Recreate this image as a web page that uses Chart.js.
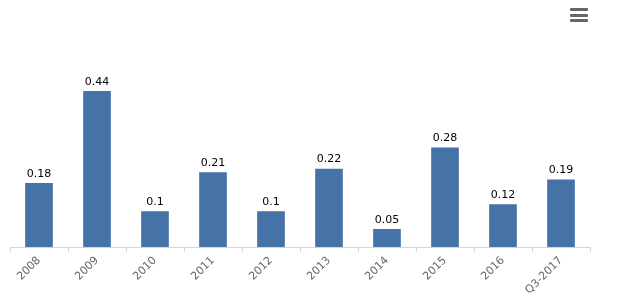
<!DOCTYPE html>
<html>
<head>
<meta charset="utf-8">
<script src="https://cdn.jsdelivr.net/npm/chart.js@4"></script>
<style>
  html, body { margin: 0; padding: 0; background: #fff; }
  #wrap { position: relative; width: 623px; height: 297px; }
  #menu { position: absolute; left: 570px; top: 8px; width: 18px; }
  #menu div { height: 3px; background: #666; margin-bottom: 2.5px; border-radius: 1px; }
</style>
</head>
<body>
<div id="wrap">
  <canvas id="result#0" width="623" height="297"></canvas>
  <div id="menu"><div></div><div></div><div></div></div>
</div>
<script>
const labels = ['2008', '2009', '2010', '2011', '2012', '2013', '2014', '2015', '2016', 'Q3-2017'];
const values = [0.18, 0.44, 0.1, 0.21, 0.1, 0.22, 0.05, 0.28, 0.12, 0.19];

// value labels above each bar
const valueLabels = {
    id: 'valueLabels',
    afterDatasetsDraw(chart) {
        const c = chart.ctx;
        const meta = chart.getDatasetMeta(0);
        c.save();
        c.font = '11px "DejaVu Sans", Verdana, sans-serif';
        c.fillStyle = '#000';
        c.textAlign = 'center';
        c.textBaseline = 'bottom';
        meta.data.forEach((bar, i) => {
            c.fillText(String(values[i]), bar.x, bar.y - 4);
        });
        c.restore();
    }
};

const ctx = document.getElementById('result#0');
chart = new Chart(ctx, {
    type: 'bar',
    data: {
        labels: labels,
        datasets: [{
            data: values,
            backgroundColor: '#4572A7',
            borderWidth: 0,
            barThickness: 27
        }]
    },
    options: {
        responsive: false,
        animation: false,
        layout: { padding: { left: 10, right: 33, top: 70, bottom: 0 } },
        plugins: {
            legend: { display: false },
            tooltip: { enabled: false }
        },
        scales: {
            x: {
                grid: {
                    drawOnChartArea: false,
                    drawTicks: true,
                    tickLength: 5,
                    color: '#ccd6eb'
                },
                border: { color: '#ccd6eb', width: 1 },
                ticks: {
                    autoSkip: false,
                    maxRotation: 45,
                    minRotation: 45,
                    padding: 2,
                    color: '#666666',
                    font: { family: '"DejaVu Sans", Verdana, sans-serif', size: 11 }
                },
                afterFit(scale) { scale.height = 50; }
            },
            y: {
                display: false,
                min: 0,
                max: 0.5
            }
        }
    },
    plugins: [valueLabels]
});
</script>
</body>
</html>
